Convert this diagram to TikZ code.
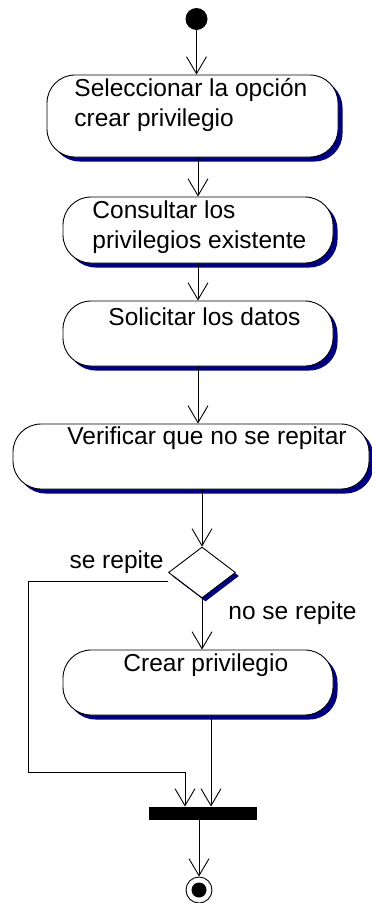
\documentclass[tikz,border=0pt]{standalone}
\usepackage{fontspec}
\setmainfont{Liberation Sans}
\usetikzlibrary{arrows.meta,positioning,calc,shapes.geometric,shadows}
\definecolor{sombra}{HTML}{000080}

\begin{document}
\begin{tikzpicture}[x=1pt,y=-1pt,line width=0.9pt,
    flujo/.style={-{Straight Barb[length=17pt,width=20pt]}},
    actividad/.style={draw,fill=white,rounded corners=28pt,minimum width=270pt,
      minimum height=65pt,inner sep=0pt,
      general shadow={fill=sombra,shadow xshift=4.5pt,shadow yshift=-4.5pt}},
    texto/.style={font=\fontsize{24.5}{30}\selectfont,inner sep=0pt,align=left,anchor=west}]
        \useasboundingbox (0,0) rectangle (372,903);
        % estados inicial y final
        \node[circle,fill,minimum size=22pt,inner sep=0pt] (inicio) at (196.5,19) {};
        \node[circle,draw,fill=white,minimum size=26pt,inner sep=0pt] (fin) at (199,890) {};
        \fill (fin.center) circle (7.5pt);
        % actividades
        \node[actividad,minimum width=291pt,minimum height=82pt] (sel) at (192.5,116) {};
        \node[texto] (tsel) at (74,105) {Seleccionar la opción\\crear privilegio};
        \node[actividad,minimum height=66pt] (cons) at (198,230) {};
        \node[texto] (tcons) at (92,227.5) {Consultar los\\privilegios existente};
        \node[actividad] (sol) at (198,333.5) {};
        \node[texto] (tsol) at (108,317) {Solicitar los datos};
        \node[actividad,minimum width=356pt] (ver) at (191,456.5) {};
        \node[texto] (tver) at (67,438) {Verificar que no se repitar};
        \node[actividad] (crear) at (198,682.5) {};
        \node[texto] (tcrear) at (123,665) {Crear privilegio};
        % decision y union
        \node[diamond,draw,fill=white,minimum width=67pt,minimum height=51pt,inner sep=0pt,
          general shadow={fill=sombra,shadow xshift=3.5pt,shadow yshift=-3.5pt}] (dec) at (202,572.5) {};
        \node[texto,anchor=east] (trep) at (164,562) {se repite};
        \node[texto] (tnorep) at (228,613) {no se repite};
        \node[fill,minimum width=108pt,minimum height=13pt,inner sep=0pt] (barra) at (203,813.5) {};
        \coordinate (vuelta) at (28,772);
        % transiciones
        \draw[flujo] (inicio) -- (inicio |- sel.north);
        \draw[flujo] (cons.north |- sel.south) -- (cons.north);
        \draw[flujo] (cons.south) -- (sol.north);
        \draw[flujo] (sol.south) -- (sol.south |- ver.north);
        \draw[flujo] (dec.north |- ver.south) -- (dec.north);
        \draw[flujo] (dec.south) -- (dec.south |- crear.north);
        \draw[flujo] ([yshift=-9pt]dec.west) -| (vuelta) -| ([xshift=-18pt]barra.north);
        \draw[flujo] ([xshift=13pt]crear.south) -- ([xshift=8pt]barra.north);
        \draw[flujo] ([xshift=-4pt]barra.south) -- (fin.north);
      \end{tikzpicture}
\end{document}
